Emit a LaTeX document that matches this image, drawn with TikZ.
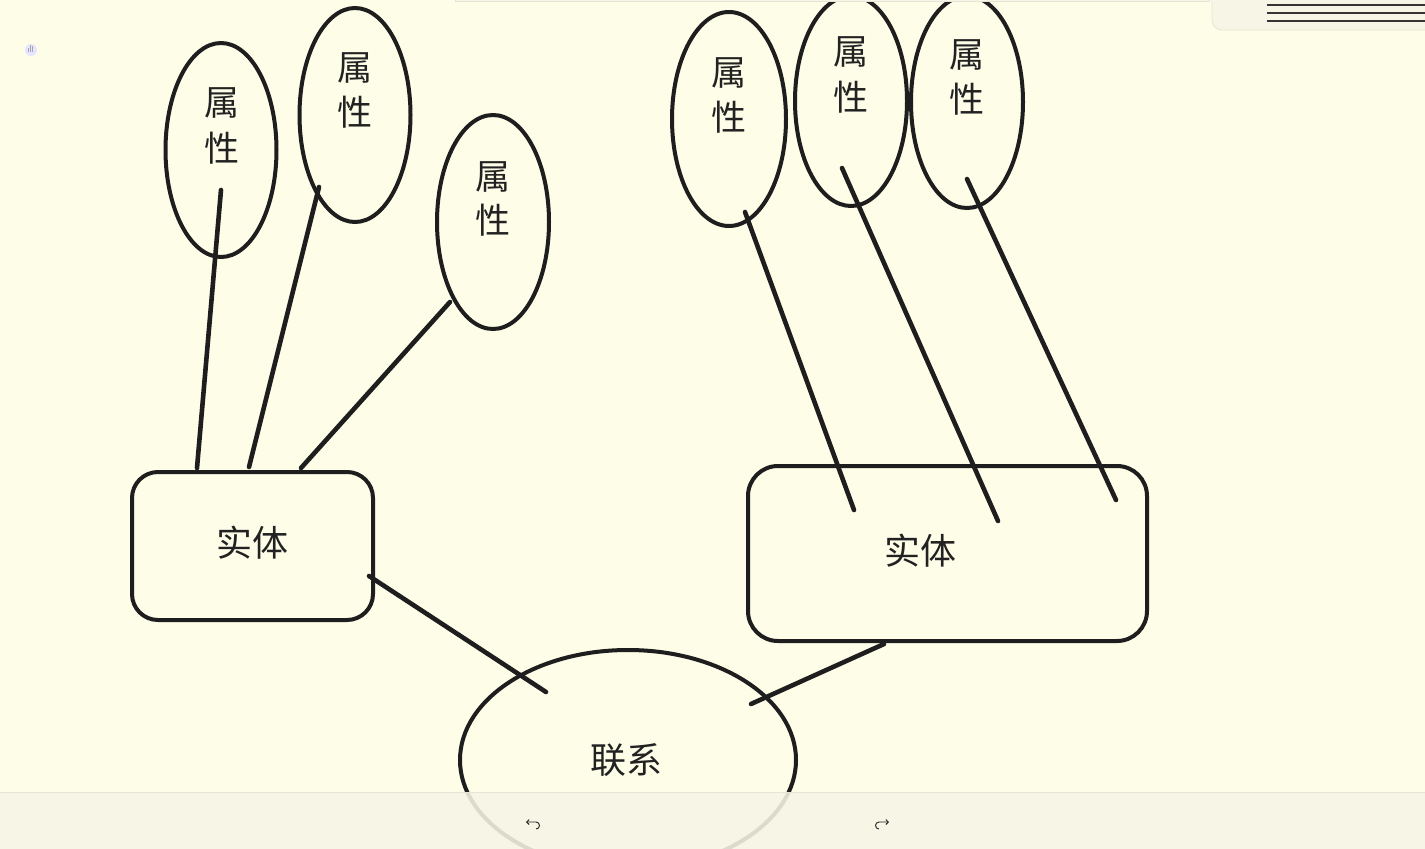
\documentclass[tikz,border=0pt]{standalone}
\usepackage{fontspec}
\newfontfamily\cjk{Noto Sans CJK SC}
\usetikzlibrary{shapes.geometric,arrows.meta}
\definecolor{bg}{RGB}{254,253,232}
\definecolor{panel}{RGB}{247,245,230}
\definecolor{panelline}{RGB}{230,228,212}
\definecolor{ink}{RGB}{30,30,30}
\definecolor{txt}{RGB}{34,34,34}
\tikzset{
  attr/.style={draw=ink,line width=4pt,ellipse,inner sep=0pt},
  ent/.style={draw=ink,line width=4pt,rounded corners=26pt,inner sep=0pt},
  link/.style={draw=ink,line width=4.6pt,line cap=round},
  lbl/.style={text=txt,font=\cjk\fontsize{35}{42}\selectfont,inner sep=0pt},
  big/.style={text=txt,font=\cjk\fontsize{36}{42}\selectfont,inner sep=0pt},
}
\begin{document}
\begin{tikzpicture}[x=1pt,y=-1pt]
\useasboundingbox (0,0) rectangle (1425,849);
\fill[bg] (0,0) rectangle (1425,849);
% attribute ellipses
\node[attr,minimum width=111pt,minimum height=214pt] (e1) at (221,150) {};
\node[attr,minimum width=111pt,minimum height=214pt] (e2) at (355,115) {};
\node[attr,minimum width=112pt,minimum height=214pt] (e3) at (493,222) {};
\node[attr,minimum width=114pt,minimum height=214pt] (e4) at (729,119) {};
\node[attr,minimum width=112pt,minimum height=210pt] (e5) at (851,101) {};
\node[attr,minimum width=112pt,minimum height=212pt] (e6) at (967,102) {};
\node[lbl] (t1a) at (222,103) {属}; \node[lbl] (t1b) at (222,148) {性};
\node[lbl] (t2a) at (355,68) {属};  \node[lbl] (t2b) at (355,112) {性};
\node[lbl] (t3a) at (493,177) {属}; \node[lbl] (t3b) at (493,220) {性};
\node[lbl] (t4a) at (729,73) {属};  \node[lbl] (t4b) at (729,117) {性};
\node[lbl] (t5a) at (851,52) {属};  \node[lbl] (t5b) at (851,97) {性};
\node[lbl] (t6a) at (967,55) {属};  \node[lbl] (t6b) at (967,99) {性};
% entities
\node[ent,minimum width=241pt,minimum height=148pt] (r1) at (252.5,546) {};
\node[big] (r1t) at (252,543) {实体};
\node[ent,rounded corners=30pt,minimum width=399pt,minimum height=175pt] (r2) at (947.5,553.5) {};
\node[big] (r2t) at (920,551) {实体};
% relation
\node[attr,minimum width=336pt,minimum height=220pt] (rel) at (628,760) {};
\node[big] (relt) at (626,760) {联系};
% connector end points
\coordinate (a1) at (221,190); \coordinate (b1) at (197,468);
\coordinate (a2) at (319,187); \coordinate (b2) at (249,467);
\coordinate (a3) at (450,302); \coordinate (b3) at (301,468);
\coordinate (a4) at (745,212); \coordinate (b4) at (854,510);
\coordinate (a5) at (842,168); \coordinate (b5) at (998,521);
\coordinate (a6) at (967,179); \coordinate (b6) at (1116,500);
\coordinate (a7) at (369,576); \coordinate (b7) at (546,692);
\coordinate (a8) at (884,644); \coordinate (b8) at (751,704);
\draw[link] (a1) -- (b1);
\draw[link] (a2) -- (b2);
\draw[link] (a3) -- (b3);
\draw[link] (a4) -- (b4);
\draw[link] (a5) -- (b5);
\draw[link] (a6) -- (b6);
\draw[link] (a7) -- (b7);
\draw[link] (a8) -- (b8);
% UI: top panels
\fill[panelline] (455,-10) rectangle (1210,2);
\fill[panel] (456,-10) rectangle (1209,1);
\draw[panelline,fill=panel,line width=0.8pt,rounded corners=10pt] (1212,-20) rectangle (1440,30);
\foreach \yy in {5,13,21} \draw[ink!90,line width=2.4pt] (1267,\yy) -- (1425,\yy);
% small cursor icon
\fill[blue!10!white] (31,50) circle (6pt);
\draw[gray!70,line width=0.7pt] (30,45) -- (30,52) (32.5,46) -- (32.5,52) (28,48) -- (28,52);
% bottom toolbar
\fill[panel,opacity=0.88] (0,792) rectangle (1425,849);
\draw[panelline,line width=1pt] (0,792) -- (1425,792);
\draw[txt,line width=0.9pt,-{Straight Barb[length=2.5pt]}] (536,829) arc[start angle=-90,end angle=90,radius=3.5pt] -- (526,822);
\draw[txt,line width=0.9pt,-{Straight Barb[length=2.5pt]}] (879,829) arc[start angle=270,end angle=90,radius=3.5pt] -- (889,822);
\end{tikzpicture}
\end{document}
